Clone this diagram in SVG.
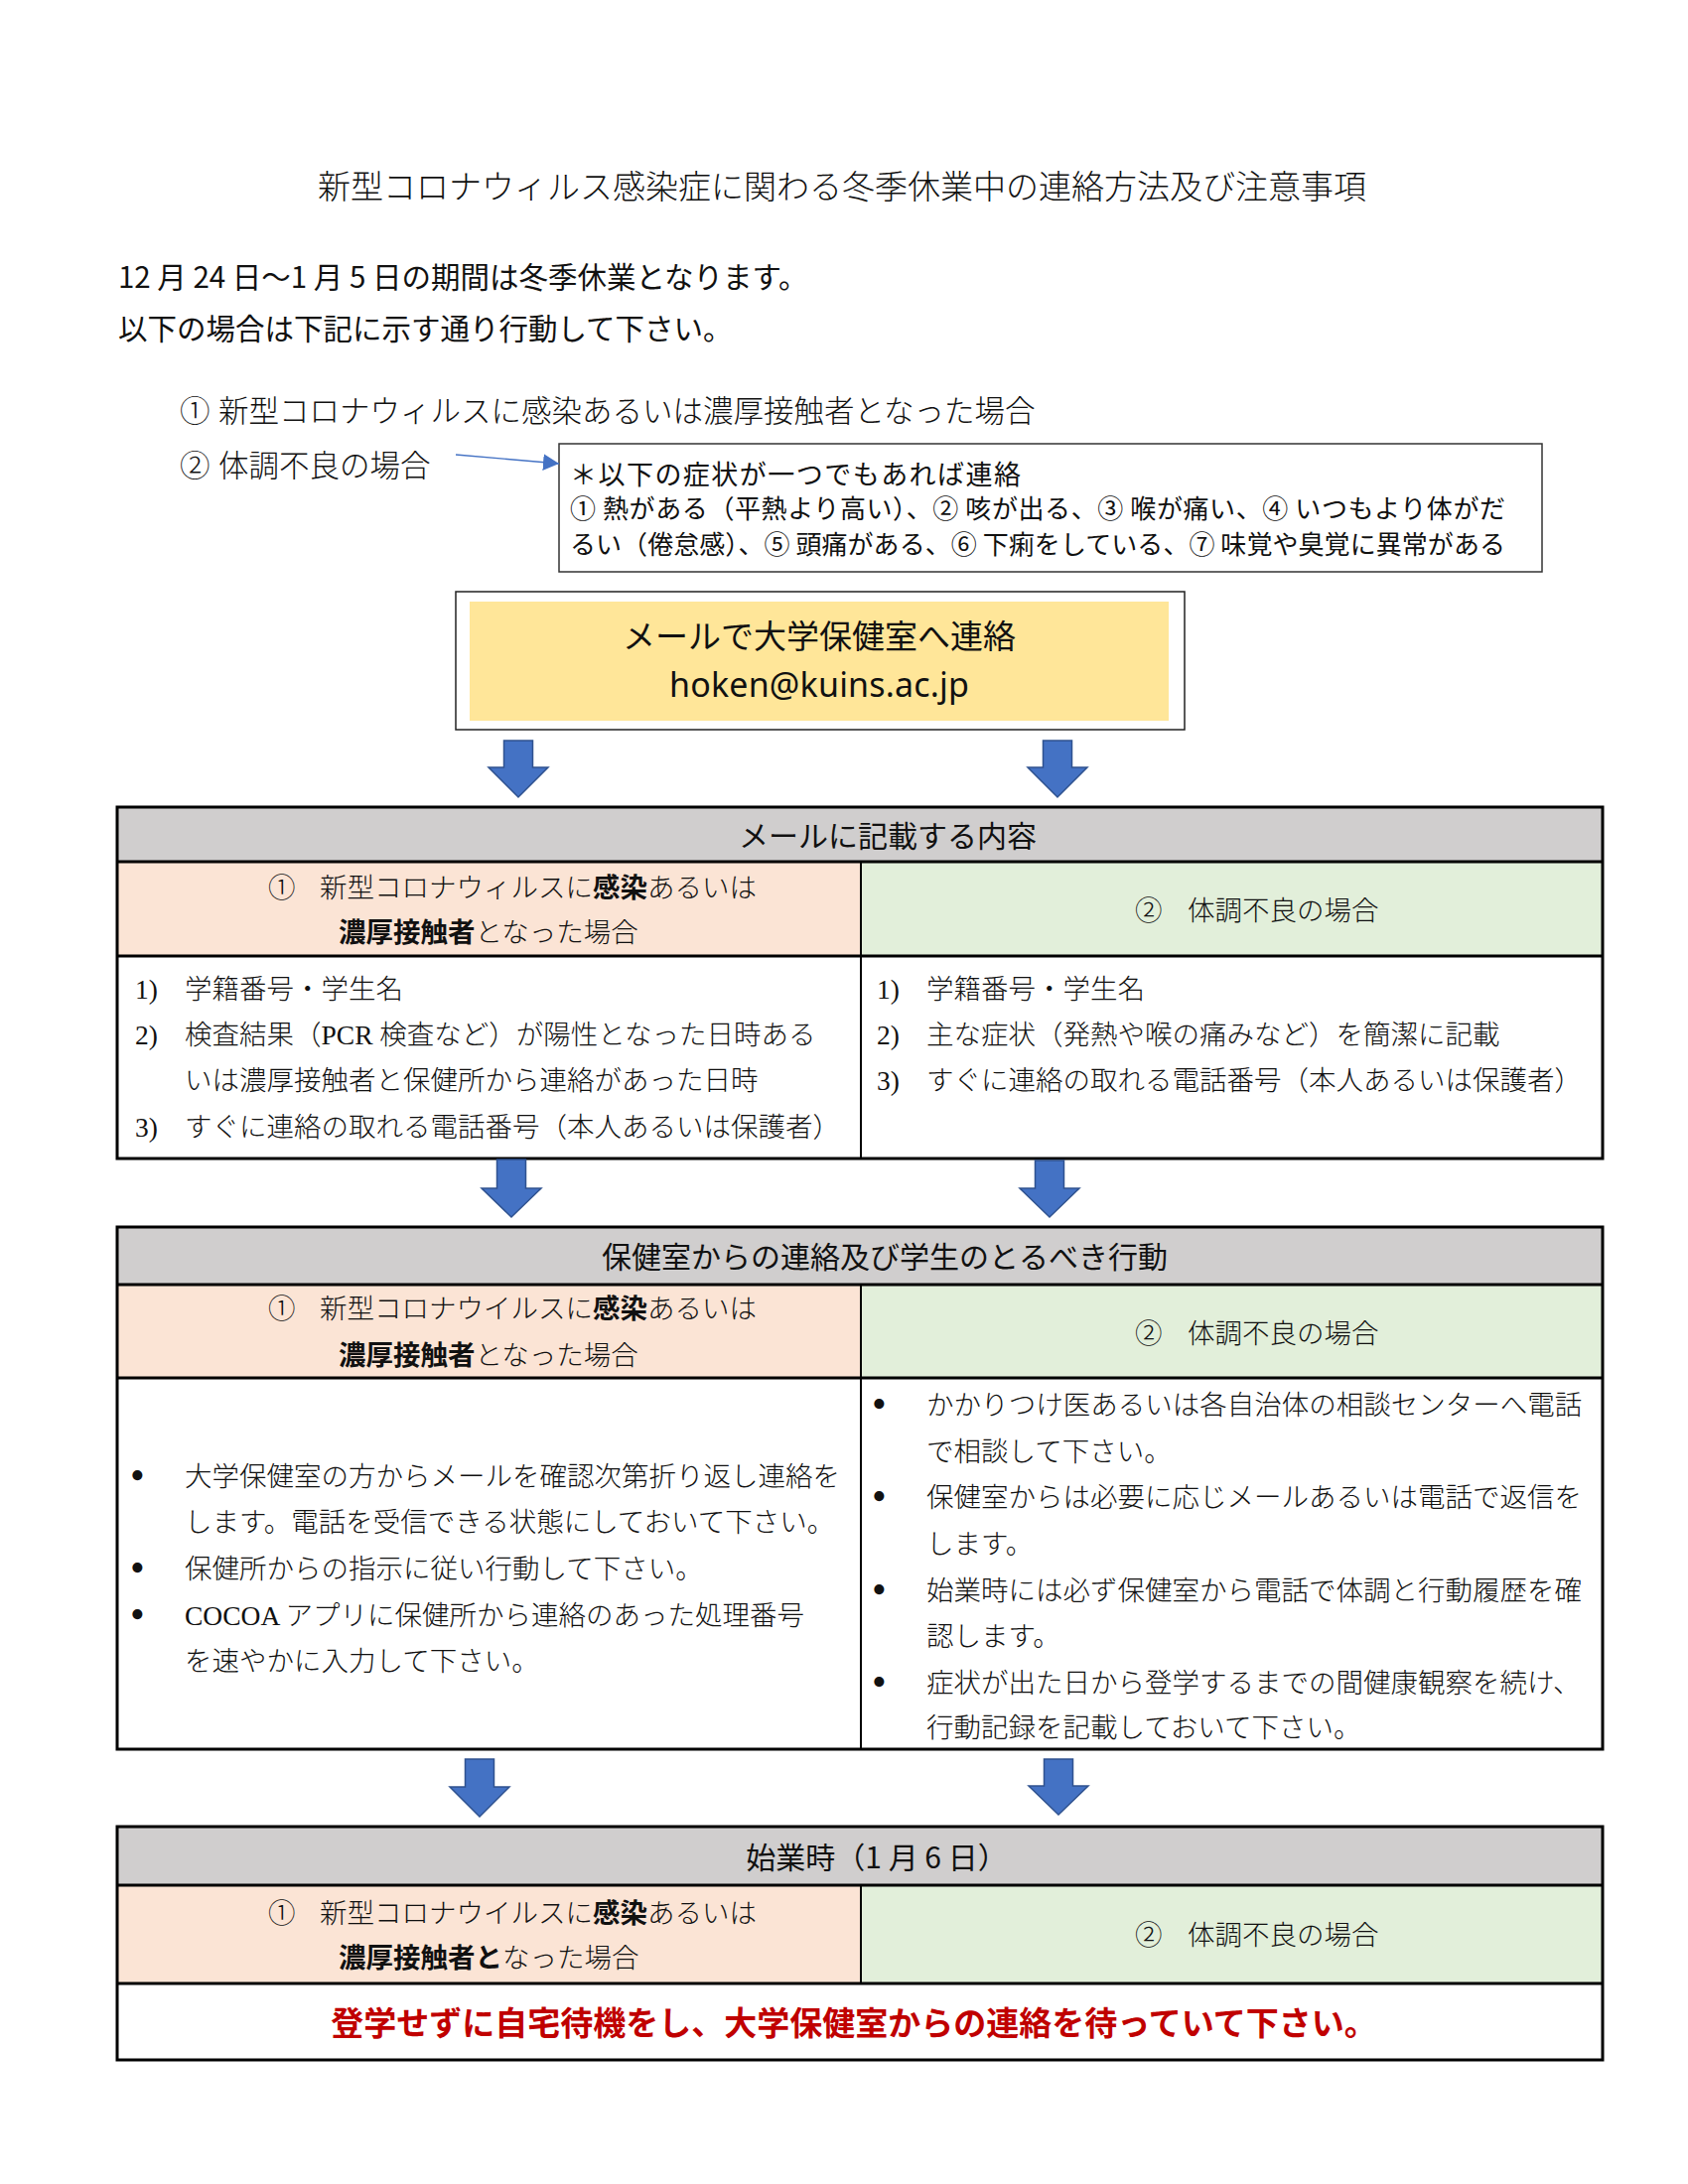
<svg xmlns="http://www.w3.org/2000/svg" width="1700" height="2200" viewBox="0 0 1700 2200">
<style>
.m{font-family:'Liberation Serif','Noto Sans CJK JP',serif;font-weight:300;fill:#111}
.g{font-family:'Noto Sans CJK JP',sans-serif;fill:#111}
.bd{font-family:'Noto Sans CJK JP',sans-serif;font-weight:bold}
.f275{font-size:27.5px}
.bl{font-size:42px}
.hdr{fill:#D0CECE}
.pk{fill:#FBE4D5}
.gr{fill:#E2EFDA}
.tb{fill:none;stroke:#000;stroke-width:3}
.dv{stroke:#000;stroke-width:2}
.blk{fill:#4472C4;stroke:#2F528F;stroke-width:1.5}
</style>
<defs>
<marker id="ah" viewBox="0 0 16 17" refX="16" refY="8.5" markerWidth="16" markerHeight="17" markerUnits="userSpaceOnUse" orient="auto">
<path d="M0,0 L16,8.5 L0,17 z" fill="#4472C4"/>
</marker>
</defs>
<rect width="1700" height="2200" fill="#fff"/>

<g id="title">
<text class="m" x="848" y="200" font-size="33" text-anchor="middle">新型コロナウィルス感染症に関わる冬季休業中の連絡方法及び注意事項</text>
</g>

<g id="intro">
<text class="g" x="119" y="290" font-size="29.5">12 月 24 日～1 月 5 日の期間は冬季休業となります。</text>
<text class="g" x="119" y="342" font-size="29.5">以下の場合は下記に示す通り行動して下さい。</text>
</g>

<g id="cases">
<text class="m" y="425" font-size="30.5"><tspan x="181">①</tspan><tspan x="220">新型コロナウィルスに感染あるいは濃厚接触者となった場合</tspan></text>
<text class="m" y="480" font-size="30.5"><tspan x="181">②</tspan><tspan x="220">体調不良の場合</tspan></text>
</g>

<g id="symptoms">
<rect x="563" y="447" width="990" height="129" fill="#fff" stroke="#333" stroke-width="1.5"/>
<text class="g" x="574" y="488" font-size="27" textLength="454">＊以下の症状が一つでもあれば連絡</text>
<text class="g" x="574" y="522" font-size="26" textLength="942">① 熱がある（平熱より高い）、② 咳が出る、③ 喉が痛い、④ いつもより体がだ</text>
<text class="g" x="574" y="558" font-size="26" textLength="942">るい（倦怠感）、⑤ 頭痛がある、⑥ 下痢をしている、⑦ 味覚や臭覚に異常がある</text>
</g>

<g id="email">
<rect x="459" y="596" width="734" height="139" fill="#fff" stroke="#222" stroke-width="1.5"/>
<rect x="473" y="606" width="704" height="120" fill="#FFE699"/>
<text class="g" x="825" y="653" font-size="33" text-anchor="middle">メールで大学保健室へ連絡</text>
<text x="674" y="702" font-size="34" textLength="302" style="font-family:'Noto Sans','Liberation Sans',sans-serif;fill:#111">hoken@kuins.ac.jp</text>
</g>

<g id="table1">
<rect x="118" y="813" width="1496" height="55" class="hdr"/>
<rect x="118" y="868" width="749" height="95" class="pk"/>
<rect x="867" y="868" width="747" height="95" class="gr"/>
<rect x="118" y="963" width="1496" height="204" fill="#fff"/>
<line x1="867" y1="868" x2="867" y2="1167" class="dv"/>
<line x1="118" y1="868" x2="1614" y2="868" class="tb"/>
<line x1="118" y1="963" x2="1614" y2="963" class="tb"/>
<rect x="118" y="813" width="1496" height="354" class="tb"/>
<text class="g" x="894" y="853" font-size="30" text-anchor="middle">メールに記載する内容</text>
<text class="m f275" y="904"><tspan x="270">①</tspan><tspan x="322">新型コロナウィルスに</tspan><tspan class="bd">感染</tspan><tspan>あるいは</tspan></text>
<text class="m f275" y="949"><tspan x="341" class="bd">濃厚接触者</tspan><tspan>となった場合</tspan></text>
<text class="m f275" y="927"><tspan x="1143">②</tspan><tspan x="1196">体調不良の場合</tspan></text>
<text class="m f275" y="1006"><tspan x="136">1)</tspan><tspan x="186">学籍番号・学生名</tspan></text>
<text class="m f275" y="1052"><tspan x="136">2)</tspan><tspan x="186">検査結果（PCR 検査など）が陽性となった日時ある</tspan></text>
<text class="m f275" y="1098" x="186">いは濃厚接触者と保健所から連絡があった日時</text>
<text class="m f275" y="1145"><tspan x="136">3)</tspan><tspan x="186">すぐに連絡の取れる電話番号（本人あるいは保護者）</tspan></text>
<text class="m f275" y="1006"><tspan x="883">1)</tspan><tspan x="933">学籍番号・学生名</tspan></text>
<text class="m f275" y="1052"><tspan x="883">2)</tspan><tspan x="933">主な症状（発熱や喉の痛みなど）を簡潔に記載</tspan></text>
<text class="m f275" y="1098"><tspan x="883">3)</tspan><tspan x="933">すぐに連絡の取れる電話番号（本人あるいは保護者）</tspan></text>
</g>

<g id="table2">
<rect x="118" y="1236" width="1496" height="58" class="hdr"/>
<rect x="118" y="1294" width="749" height="94" class="pk"/>
<rect x="867" y="1294" width="747" height="94" class="gr"/>
<rect x="118" y="1388" width="1496" height="374" fill="#fff"/>
<line x1="867" y1="1294" x2="867" y2="1762" class="dv"/>
<line x1="118" y1="1294" x2="1614" y2="1294" class="tb"/>
<line x1="118" y1="1388" x2="1614" y2="1388" class="tb"/>
<rect x="118" y="1236" width="1496" height="526" class="tb"/>
<text class="g" x="891" y="1277" font-size="30" text-anchor="middle">保健室からの連絡及び学生のとるべき行動</text>
<text class="m f275" y="1328"><tspan x="270">①</tspan><tspan x="322">新型コロナウイルスに</tspan><tspan class="bd">感染</tspan><tspan>あるいは</tspan></text>
<text class="m f275" y="1375"><tspan x="341" class="bd">濃厚接触者</tspan><tspan>となった場合</tspan></text>
<text class="m f275" y="1353"><tspan x="1143">②</tspan><tspan x="1196">体調不良の場合</tspan></text>
<text class="m f275" y="1497"><tspan x="131" class="bl" dy="3">•</tspan><tspan x="186" dy="-3">大学保健室の方からメールを確認次第折り返し連絡を</tspan></text>
<text class="m f275" y="1543" x="186">します。電話を受信できる状態にしておいて下さい。</text>
<text class="m f275" y="1590"><tspan x="131" class="bl" dy="3">•</tspan><tspan x="186" dy="-3">保健所からの指示に従い行動して下さい。</tspan></text>
<text class="m f275" y="1637"><tspan x="131" class="bl" dy="3">•</tspan><tspan x="186" dy="-3">COCOA アプリに保健所から連絡のあった処理番号</tspan></text>
<text class="m f275" y="1683" x="186">を速やかに入力して下さい。</text>
<text class="m f275" y="1425"><tspan x="878" class="bl" dy="3">•</tspan><tspan x="933" dy="-3">かかりつけ医あるいは各自治体の相談センターへ電話</tspan></text>
<text class="m f275" y="1472" x="933">で相談して下さい。</text>
<text class="m f275" y="1518"><tspan x="878" class="bl" dy="3">•</tspan><tspan x="933" dy="-3">保健室からは必要に応じメールあるいは電話で返信を</tspan></text>
<text class="m f275" y="1565" x="933">します。</text>
<text class="m f275" y="1612"><tspan x="878" class="bl" dy="3">•</tspan><tspan x="933" dy="-3">始業時には必ず保健室から電話で体調と行動履歴を確</tspan></text>
<text class="m f275" y="1658" x="933">認します。</text>
<text class="m f275" y="1705"><tspan x="878" class="bl" dy="3">•</tspan><tspan x="933" dy="-3">症状が出た日から登学するまでの間健康観察を続け、</tspan></text>
<text class="m f275" y="1750" x="933">行動記録を記載しておいて下さい。</text>
</g>

<g id="table3">
<rect x="118" y="1840" width="1496" height="59" class="hdr"/>
<rect x="118" y="1899" width="749" height="99" class="pk"/>
<rect x="867" y="1899" width="747" height="99" class="gr"/>
<rect x="118" y="1998" width="1496" height="77" fill="#fff"/>
<line x1="867" y1="1899" x2="867" y2="1998" class="dv"/>
<line x1="118" y1="1899" x2="1614" y2="1899" class="tb"/>
<line x1="118" y1="1998" x2="1614" y2="1998" class="tb"/>
<rect x="118" y="1840" width="1496" height="235" class="tb"/>
<text class="g" x="883" y="1882" font-size="30" text-anchor="middle">始業時（1 月 6 日）</text>
<text class="m f275" y="1937"><tspan x="270">①</tspan><tspan x="322">新型コロナウイルスに</tspan><tspan class="bd">感染</tspan><tspan>あるいは</tspan></text>
<text class="m f275" y="1982"><tspan x="341" class="bd">濃厚接触者と</tspan><tspan>なった場合</tspan></text>
<text class="m f275" y="1959"><tspan x="1143">②</tspan><tspan x="1196">体調不良の場合</tspan></text>
<text x="860" y="2050" font-size="33" text-anchor="middle" style="font-family:'Noto Sans CJK JP',sans-serif;font-weight:bold;fill:#C00000">登学せずに自宅待機をし、大学保健室からの連絡を待っていて下さい。</text>
</g>

<g id="connectors">
<line x1="459" y1="458" x2="563" y2="467" stroke="#4472C4" stroke-width="1.3" marker-end="url(#ah)"/>
<polygon class="blk" points="507.5,746 536.5,746 536.5,773 552,773 522,803 492,773 507.5,773"/>
<polygon class="blk" points="1050.5,746 1079.5,746 1079.5,773 1095,773 1065,803 1035,773 1050.5,773"/>
<polygon class="blk" points="500.5,1168 529.5,1168 529.5,1197 545,1197 515,1226 485,1197 500.5,1197"/>
<polygon class="blk" points="1042.5,1169 1071.5,1169 1071.5,1197 1087,1197 1057,1226 1027,1197 1042.5,1197"/>
<polygon class="blk" points="468.5,1772 497.5,1772 497.5,1800 513,1800 483,1830 453,1800 468.5,1800"/>
<polygon class="blk" points="1051.5,1772 1080.5,1772 1080.5,1799 1096,1799 1066,1828 1036,1799 1051.5,1799"/>
</g>
</svg>
